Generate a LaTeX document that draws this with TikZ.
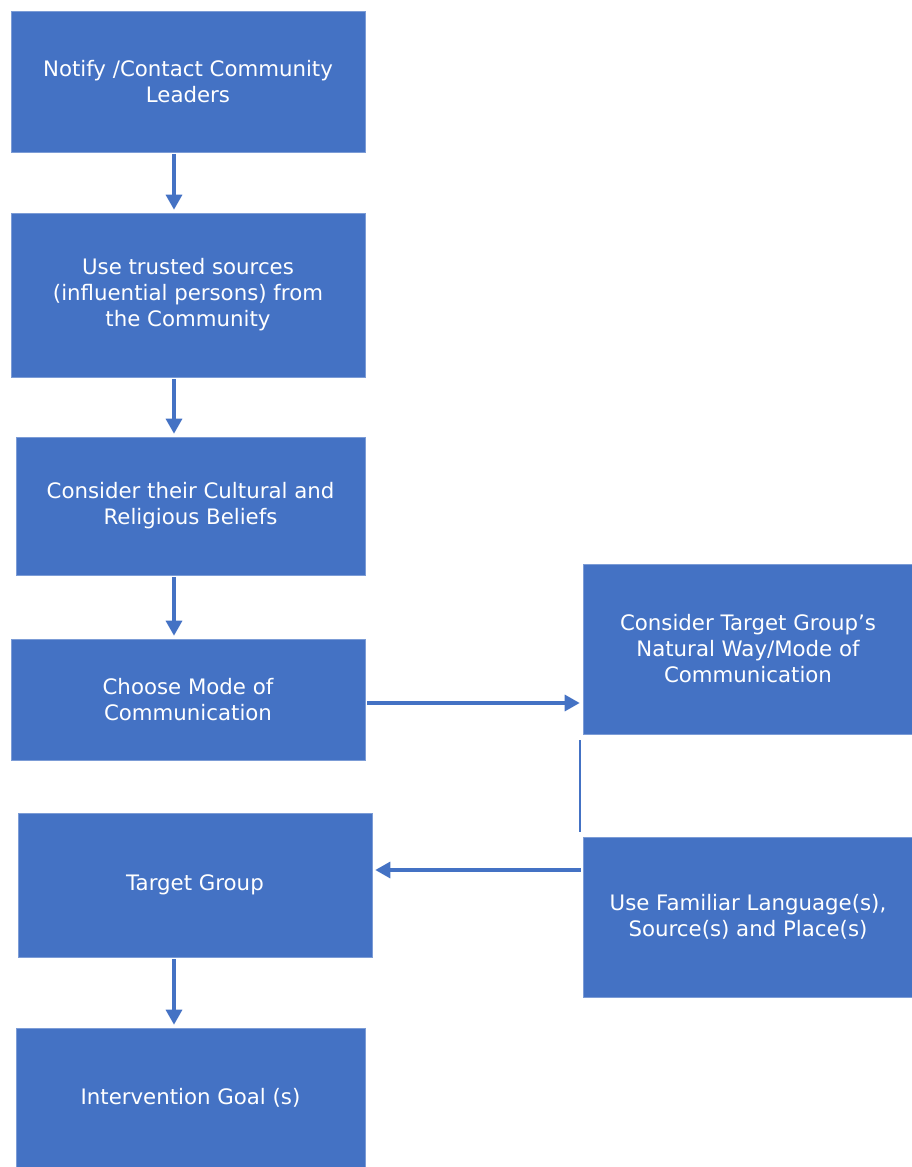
\documentclass[tikz,border=0pt]{standalone}
\usepackage{fontspec}
\setmainfont{DejaVu Sans}
\usepackage{tikz}
\usetikzlibrary{positioning,arrows.meta}

\definecolor{boxblue}{HTML}{4472C4}

\begin{document}
\begin{tikzpicture}[
			x=1pt,y=-1pt,
			font=\fontsize{21.3}{26}\selectfont,
			stage/.style={rectangle,fill=boxblue,draw=boxblue!70!white,line width=0.6pt,
				text=white,align=center,inner sep=0pt},
			flow/.style={draw=boxblue,line width=3.2pt,
				-{Triangle[width=16pt,length=15pt]},shorten <=2pt,shorten >=3pt},
			link/.style={draw=boxblue,line width=2pt},
			]
			
			\useasboundingbox (0,0) rectangle (911,1167);
			
			% Main column
			\node[stage,minimum width=354,minimum height=141] (notify) at (188,81.5)
			{Notify /Contact Community\\Leaders};
			\node[stage,minimum width=354,minimum height=164] (trusted) at (188,295)
			{Use trusted sources\\(influential persons) from\\the Community};
			\node[stage,minimum width=349,minimum height=138] (beliefs) at (190.5,506)
			{Consider their Cultural and\\Religious Beliefs};
			\node[stage,minimum width=354,minimum height=121] (mode) at (188,699.5)
			{Choose Mode of\\Communication};
			\node[stage,minimum width=354,minimum height=144] (target) at (195,885)
			{Target Group};
			\node[stage,minimum width=349,minimum height=139] (goal) at (190.5,1097.5)
			{Intervention Goal (s)};
			
			% Side column
			\node[stage,minimum width=330,minimum height=170] (natural) at (748,649)
			{Consider Target Group’s\\Natural Way/Mode of\\Communication};
			\node[stage,minimum width=330,minimum height=160] (familiar) at (748,917)
			{Use Familiar Language(s),\\Source(s) and Place(s)};
			
			% Down arrows share one axis
			\coordinate (axis) at (174,0);
			\draw[flow] (notify.south -| axis) -- (trusted.north -| axis);
			\draw[flow] (trusted.south -| axis) -- (beliefs.north -| axis);
			\draw[flow] (beliefs.south -| axis) -- (mode.north -| axis);
			\draw[flow] (target.south -| axis) -- (goal.north -| axis);
			
			% Across to the side column and back (yshift is in pt, up is positive)
			\draw[flow] ([yshift=-3.5]mode.east) -- ([yshift=-3.5]mode.east -| natural.west);
			\draw[link] ([xshift=-3,yshift=-6]natural.south west)
			-- ([xshift=-3,yshift=5]familiar.north west);
			\draw[flow] ([yshift=15]target.east -| familiar.west) -- ([yshift=15]target.east);
			
		\end{tikzpicture}
\end{document}
